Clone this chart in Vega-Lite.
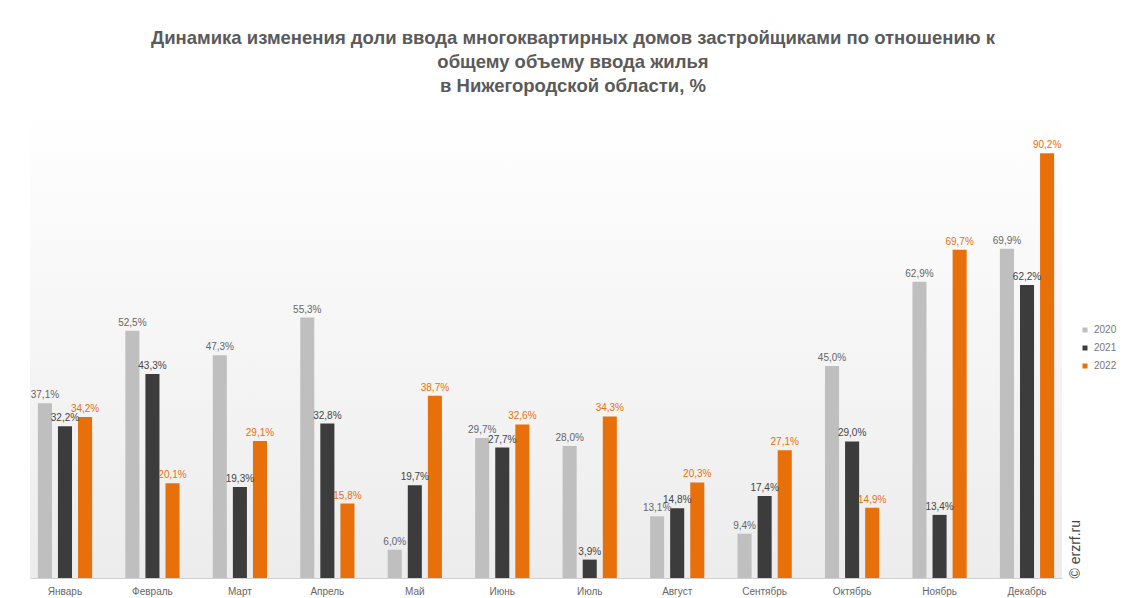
{
  "$schema": "https://vega.github.io/schema/vega-lite/v6.json",
  "autosize": "none",
  "width": 1032,
  "height": 471,
  "padding": {"left": 30, "top": 107, "right": 65, "bottom": 20},
  "background": "white",
  "title": {
    "text": ["Динамика изменения доли ввода многоквартирных домов застройщиками по отношению к", "общему объему ввода жилья", "в Нижегородской области, %"],
    "anchor": "middle",
    "dx": 27,
    "fontSize": 18.5,
    "font": "Liberation Sans",
    "fontWeight": "bold",
    "color": "#5a5a5a",
    "lineHeight": 24,
    "offset": 12
  },
  "data": {
    "values": [
      {"month": "Январь", "year": "2020", "value": 37.1},
      {"month": "Январь", "year": "2021", "value": 32.2},
      {"month": "Январь", "year": "2022", "value": 34.2},
      {"month": "Февраль", "year": "2020", "value": 52.5},
      {"month": "Февраль", "year": "2021", "value": 43.3},
      {"month": "Февраль", "year": "2022", "value": 20.1},
      {"month": "Март", "year": "2020", "value": 47.3},
      {"month": "Март", "year": "2021", "value": 19.3},
      {"month": "Март", "year": "2022", "value": 29.1},
      {"month": "Апрель", "year": "2020", "value": 55.3},
      {"month": "Апрель", "year": "2021", "value": 32.8},
      {"month": "Апрель", "year": "2022", "value": 15.8},
      {"month": "Май", "year": "2020", "value": 6.0},
      {"month": "Май", "year": "2021", "value": 19.7},
      {"month": "Май", "year": "2022", "value": 38.7},
      {"month": "Июнь", "year": "2020", "value": 29.7},
      {"month": "Июнь", "year": "2021", "value": 27.7},
      {"month": "Июнь", "year": "2022", "value": 32.6},
      {"month": "Июль", "year": "2020", "value": 28.0},
      {"month": "Июль", "year": "2021", "value": 3.9},
      {"month": "Июль", "year": "2022", "value": 34.3},
      {"month": "Август", "year": "2020", "value": 13.1},
      {"month": "Август", "year": "2021", "value": 14.8},
      {"month": "Август", "year": "2022", "value": 20.3},
      {"month": "Сентябрь", "year": "2020", "value": 9.4},
      {"month": "Сентябрь", "year": "2021", "value": 17.4},
      {"month": "Сентябрь", "year": "2022", "value": 27.1},
      {"month": "Октябрь", "year": "2020", "value": 45.0},
      {"month": "Октябрь", "year": "2021", "value": 29.0},
      {"month": "Октябрь", "year": "2022", "value": 14.9},
      {"month": "Ноябрь", "year": "2020", "value": 62.9},
      {"month": "Ноябрь", "year": "2021", "value": 13.4},
      {"month": "Ноябрь", "year": "2022", "value": 69.7},
      {"month": "Декабрь", "year": "2020", "value": 69.9},
      {"month": "Декабрь", "year": "2021", "value": 62.2},
      {"month": "Декабрь", "year": "2022", "value": 90.2}
    ]
  },
  "transform": [
    {"calculate": "replace(format(datum.value, '.1f'), '.', ',') + '%'", "as": "label"}
  ],
  "encoding": {
    "x": {
      "field": "month", "type": "nominal", "sort": null,
      "scale": {"paddingInner": 0.38, "paddingOuter": 0.09},
      "axis": {"title": null, "labelAngle": 0, "labelFontSize": 10, "labelColor": "#666666", "labelFont": "Liberation Sans", "ticks": false, "domain": true, "domainColor": "#d0d0d0", "labelPadding": 8}
    },
    "xOffset": {"field": "year", "type": "nominal", "scale": {"paddingInner": 0.3}},
    "y": {
      "field": "value", "type": "quantitative",
      "scale": {"domain": [0, 100], "nice": false},
      "axis": {"orient": "right", "title": "© erzrf.ru", "labels": false, "ticks": false, "domain": false, "grid": false, "titleAnchor": "start", "titleAngle": 270, "titleFontSize": 14, "titleFont": "Liberation Sans", "titleFontWeight": "normal", "titleColor": "#444444", "titlePadding": 20, "titleBaseline": "bottom"}
    }
  },
  "layer": [
    {
      "mark": {"type": "bar"},
      "encoding": {
        "color": {
          "field": "year", "type": "nominal",
          "scale": {"domain": ["2020", "2021", "2022"], "range": ["#bfbfbf", "#3c3c3c", "#e8700a"]},
          "legend": {"title": null, "orient": "none", "legendX": 1050, "legendY": 218, "symbolType": "square", "symbolSize": 25, "labelFontSize": 10, "labelColor": "#777777", "labelFont": "Liberation Sans", "rowPadding": 8, "symbolStrokeWidth": 0}
        }
      }
    },
    {
      "mark": {"type": "text", "baseline": "bottom", "dy": -3, "fontSize": 10, "font": "Liberation Sans"},
      "encoding": {
        "text": {"field": "label"},
        "color": {
          "field": "year", "type": "nominal",
          "scale": {"domain": ["2020", "2021", "2022"], "range": ["#666666", "#444444", "#e8700a"]},
          "legend": null
        }
      }
    }
  ],
  "resolve": {"scale": {"color": "independent"}},
  "config": {"view": {"stroke": null, "fill": {"gradient": "linear", "x1": 0, "y1": 0, "x2": 0, "y2": 1, "stops": [{"offset": 0, "color": "#ffffff"}, {"offset": 1, "color": "#ececec"}]}}}
}
